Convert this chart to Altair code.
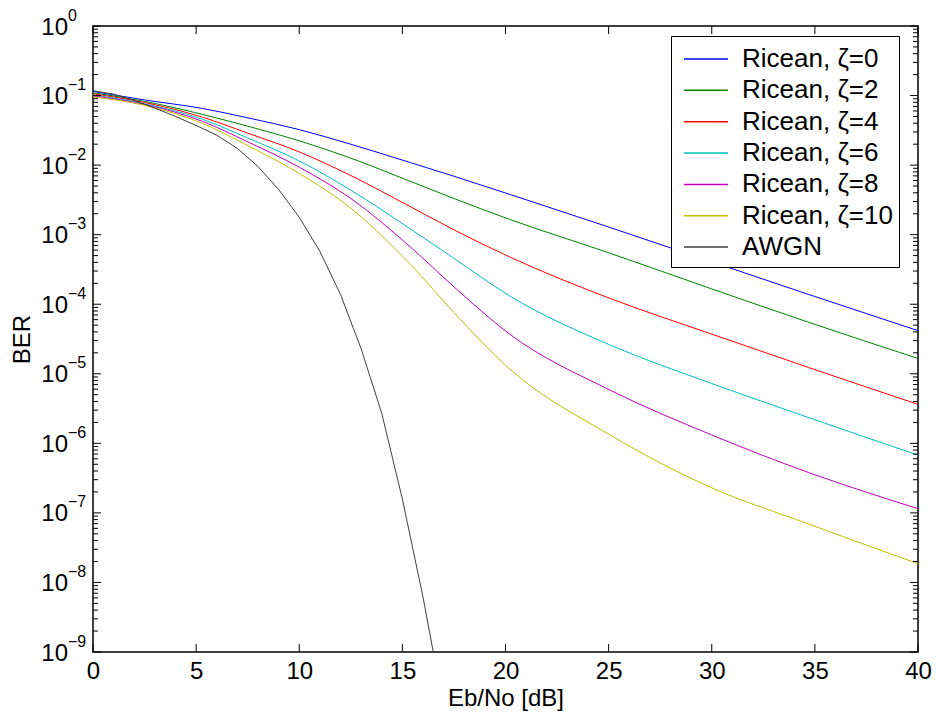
import altair as alt
import pandas as pd

# Eb/No sample points (dB)
snr = [0, 2.5, 5.3, 7.5, 10, 12.5, 15.4, 17.5, 20.2, 25.1, 30, 34.7, 40]

# log10(BER)
z0 = [-0.94, -1.063, -1.185, -1.32, -1.49, -1.70, -1.965, -2.16, -2.42, -2.90, -3.39, -3.86, -4.38]
z2 = [-0.96, -1.084, -1.27, -1.44, -1.65, -1.90, -2.235, -2.48, -2.78, -3.27, -3.78, -4.26, -4.78]
z4 = [-0.975, -1.10, -1.31, -1.54, -1.81, -2.15, -2.60, -2.93, -3.32, -3.92, -4.43, -4.91, -5.44]
z6 = [-0.99, -1.118, -1.34, -1.61, -1.94, -2.36, -2.92, -3.34, -3.88, -4.59, -5.14, -5.63, -6.17]
z8 = [-1.005, -1.127, -1.37, -1.665, -2.03, -2.48, -3.18, -3.75, -4.43, -5.24, -5.88, -6.42, -6.94]
z10 = [-1.02, -1.14, -1.40, -1.72, -2.12, -2.62, -3.43, -4.12, -4.93, -5.885, -6.64, -7.16, -7.73]

awgn_snr = [0, 1, 2, 3, 4, 5, 6, 7, 8, 9, 10, 11, 12, 13, 14, 15, 16, 17]
awgn = [-0.93, -0.98, -1.07, -1.18, -1.30, -1.43, -1.57, -1.76, -2.02, -2.35, -2.75,
        -3.24, -3.86, -4.64, -5.57, -6.80, -8.21, -9.8]

names = ["Ricean, ζ=0", "Ricean, ζ=2", "Ricean, ζ=4", "Ricean, ζ=6",
         "Ricean, ζ=8", "Ricean, ζ=10", "AWGN"]
colors = ["#0000ff", "#008000", "#ff0000", "#00bfbf", "#bf00bf", "#bfbf00", "#404040"]

x_ticks = [0, 5, 10, 15, 20, 25, 30, 35, 40]
y_exps = list(range(-9, 1))
y_major = [10.0 ** k for k in y_exps]
y_minor = [m * 10.0 ** k for k in range(-9, 0) for m in range(2, 10)]

rows = []
for name, vals in zip(names[:6], [z0, z2, z4, z6, z8, z10]):
    for s, v in zip(snr, vals):
        rows.append({"snr": s, "ber": 10 ** v, "series": name})
ricean = pd.DataFrame(rows)
awgn_df = pd.DataFrame({"snr": awgn_snr, "ber": [10 ** v for v in awgn],
                        "series": ["AWGN"] * len(awgn)})

FONT = "Liberation Sans"
xscale = alt.Scale(domain=[0, 40], nice=False, zero=False)
yscale = alt.Scale(type="log", domain=[1e-9, 1], nice=False)

xaxis = alt.Axis(values=x_ticks, title="Eb/No [dB]", grid=False, ticks=False,
                 domain=False, labelFontSize=24, labelFont=FONT, labelColor="black",
                 labelPadding=7, labelFlush=False, labelOverlap=False,
                 titleFontSize=24, titleFont=FONT,
                 titleFontWeight="normal", titleColor="black",
                 titleY=53, titleBaseline="alphabetic")
yaxis = alt.Axis(values=y_major, labels=False, title="BER", grid=False,
                 ticks=False, domain=False, titleFontSize=24,
                 titleFont=FONT, titleFontWeight="normal", titleColor="black",
                 titleX=-71, titleY=313, titleBaseline="middle")

color = alt.Color("series:N", scale=alt.Scale(domain=names, range=colors),
                  legend=alt.Legend(title=None, orient="none", legendX=578, legendY=10,
                                    labelFontSize=26, labelFont=FONT, labelColor="black",
                                    symbolType="M-1.39,0H1.39", symbolSize=1000,
                                    symbolStrokeWidth=1.5, strokeColor="black",
                                    fillColor="white", padding=6, rowPadding=1.35,
                                    symbolOffset=12, labelOffset=19, labelLimit=400))

X = alt.X("snr:Q", scale=xscale, axis=xaxis)
Y = alt.Y("ber:Q", scale=yscale, axis=yaxis)

lines = alt.Chart(ricean).mark_line(strokeWidth=1, clip=True, interpolate="monotone").encode(
    x=X, y=Y, color=color, order="snr:Q")
awgn_line = alt.Chart(awgn_df).mark_line(strokeWidth=1, clip=True).encode(
    x=X, y=Y, color=color, order="snr:Q")

xt = pd.DataFrame({"snr": x_ticks})
ym = pd.DataFrame({"ber": y_major,
                   "exp": [str(k).replace("-", "\u2212") for k in y_exps]})
yn = pd.DataFrame({"ber": y_minor})

def xrule(y0, y1):
    return alt.Chart(xt).mark_rule(color="black", strokeWidth=1).encode(
        x=X, y=alt.value(y0), y2=alt.value(y1))

def yrule(data, x0, x1):
    return alt.Chart(data).mark_rule(color="black", strokeWidth=1).encode(
        y=Y, x=alt.value(x0), x2=alt.value(x1))

base_lab = alt.Chart(ym).mark_text(text="10", align="right", baseline="alphabetic",
                                   dy=8.5, fontSize=24, font=FONT, color="black").encode(
    y=Y, x=alt.value(-25))
exp_lab = alt.Chart(ym).mark_text(align="left", baseline="alphabetic", dy=-5.5,
                                  fontSize=16, font=FONT, color="black").encode(
    y=Y, x=alt.value(-25), text="exp:N")

chart = alt.layer(
    lines, awgn_line,
    xrule(626, 618), xrule(0, 8),
    yrule(ym, 0, 8), yrule(yn, 0, 5),
    yrule(ym, 825, 817), yrule(yn, 825, 820),
    base_lab, exp_lab,
).properties(
    width=825, height=626,
    padding={"left": 93, "top": 26, "right": 20, "bottom": 65},
    autosize=alt.AutoSizeParams(type="none"),
    background="white",
).configure_view(stroke="black", strokeWidth=1.5)

chart.save("out.html", embed_options={"renderer": "svg", "actions": False})
